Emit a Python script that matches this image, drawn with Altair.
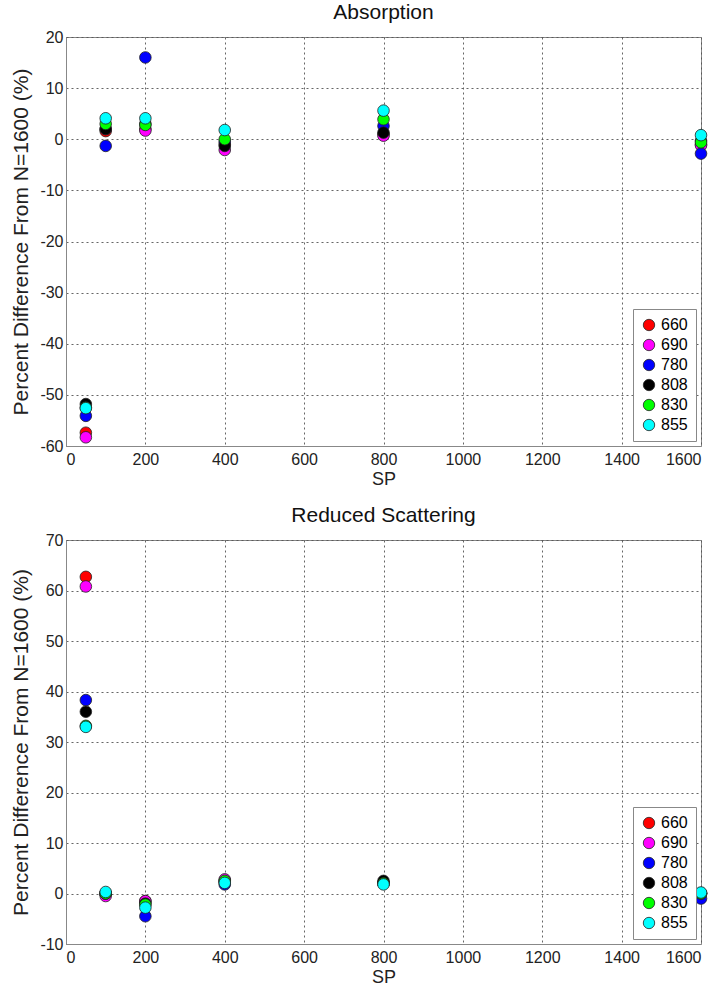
import altair as alt
import pandas as pd

sp = [50, 100, 200, 400, 800, 1600]
wavelengths = ["660", "690", "780", "808", "830", "855"]
colors = ["#ff0000", "#ff00ff", "#0000ff", "#000000", "#00ff00", "#00ffff"]

# Absorption values per wavelength, at SP = 50,100,200,400,800,1600
abs_660 = [-57.4, 1.6, 2.0, -1.0, 1.0, -1.0]
abs_690 = [-58.3, 2.0, 1.7, -2.1, 0.7, -1.2]
abs_780 = [-54.1, -1.3, 16.0, -0.5, 2.6, -2.8]
abs_808 = [-51.8, 2.0, 3.0, -1.3, 1.3, -0.3]
abs_830 = [-52.5, 3.0, 2.8, 0.0, 3.9, -0.6]
abs_855 = [-52.6, 4.1, 4.1, 1.8, 5.6, 0.8]

# Reduced scattering values
sca_660 = [62.7, 0.0, -1.5, 2.5, 2.2, 0.0]
sca_690 = [60.8, -0.5, -1.5, 2.8, 2.0, 0.0]
sca_780 = [38.3, 0.0, -4.5, 1.8, 2.0, -1.0]
sca_808 = [36.0, 0.0, -2.0, 2.3, 2.5, 0.0]
sca_830 = [33.2, 0.0, -2.2, 2.5, 2.0, 0.0]
sca_855 = [33.0, 0.3, -2.8, 2.1, 1.8, 0.2]

abs_series = [abs_660, abs_690, abs_780, abs_808, abs_830, abs_855]
sca_series = [sca_660, sca_690, sca_780, sca_808, sca_830, sca_855]


def make_df(series):
    rows = []
    for i, (wl, vals) in enumerate(zip(wavelengths, series)):
        for x, v in zip(sp, vals):
            rows.append({"SP": x, "val": v, "wl": wl, "order": i})
    return pd.DataFrame(rows)


FONT = "Liberation Sans"
GRID = "#555555"
LABEL_EXPR = "replace(format(datum.value, 'd'), '\u2212', '-')"


def panel(df, title, ymin, ymax, h):
    return (
        alt.Chart(df, title=alt.Title(title, fontSize=21, font=FONT, fontWeight="normal", offset=6))
        .mark_circle(size=135, opacity=1, stroke="#222222", strokeWidth=0.8, clip=False)
        .encode(
            x=alt.X(
                "SP:Q",
                scale=alt.Scale(domain=[0, 1600], nice=False),
                axis=alt.Axis(
                    values=list(range(0, 1601, 200)),
                    labelExpr=LABEL_EXPR,
                    title="SP",
                    titleFontSize=18,
                    titleFontWeight="normal",
                    titlePadding=3,
                    labelFontSize=16,
                    labelPadding=5,
                    ticks=False,
                    grid=True,
                    gridDash=[2, 3],
                    gridColor=GRID,
                    gridOpacity=0.9,
                    domainColor="#888888",
                ),
            ),
            y=alt.Y(
                "val:Q",
                scale=alt.Scale(domain=[ymin, ymax], nice=False),
                axis=alt.Axis(
                    values=list(range(ymin, ymax + 1, 10)),
                    labelExpr=LABEL_EXPR,
                    title="Percent Difference From N=1600 (%)",
                    titleFontSize=21,
                    titleFontWeight="normal",
                    titlePadding=8,
                    labelFontSize=16,
                    labelPadding=3,
                    ticks=False,
                    grid=True,
                    gridDash=[2, 3],
                    gridColor=GRID,
                    gridOpacity=0.9,
                    domainColor="#888888",
                ),
            ),
            color=alt.Color(
                "wl:N",
                scale=alt.Scale(domain=wavelengths, range=colors),
                legend=alt.Legend(
                    title=None,
                    orient="bottom-right",
                    offset=5,
                    fillColor="white",
                    strokeColor="#888888",
                    padding=8,
                    labelFontSize=16,
                    labelFont=FONT,
                    symbolSize=130,
                    symbolStrokeColor="#222222",
                    symbolStrokeWidth=0.8,
                    rowPadding=4,
                ),
            ),
            order=alt.Order("order:Q"),
        )
        .properties(width=635, height=h)
    )


top = panel(make_df(abs_series), "Absorption", -60, 20, 409)
bottom = panel(make_df(sca_series), "Reduced Scattering", -10, 70, 404)

chart = (
    alt.vconcat(top, bottom, spacing=15)
    .resolve_legend(color="independent")
    .resolve_scale(color="independent")
    .properties(padding={"left": 10, "top": 1, "right": 10, "bottom": 2}, background="white")
    .configure_view(stroke="#888888", strokeWidth=1)
    .configure_axis(labelFont=FONT, titleFont=FONT, labelColor="#222222", titleColor="#222222")
    .configure_title(font=FONT, color="#111111")
)

chart.save("out.html", embed_options={"renderer": "svg", "actions": False})
